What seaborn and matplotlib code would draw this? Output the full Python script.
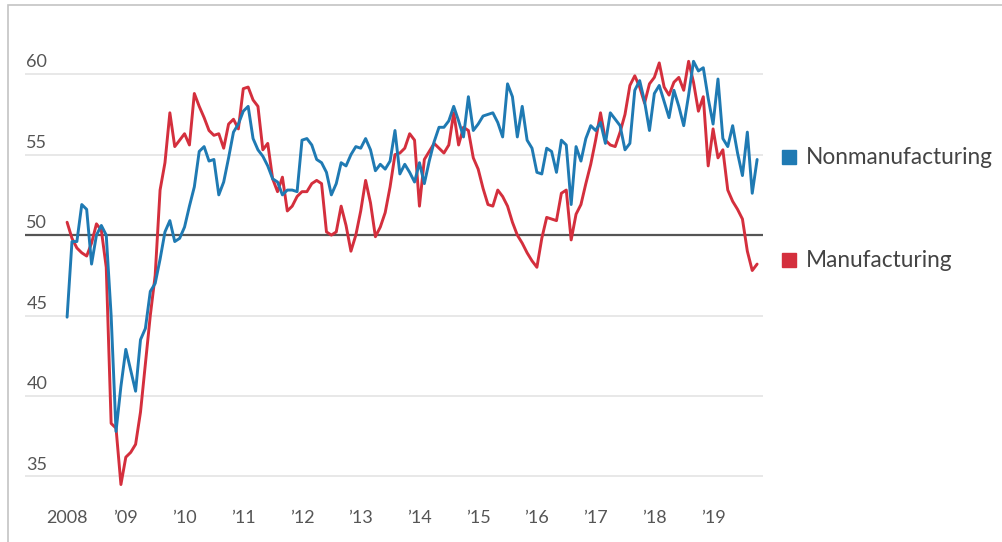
import numpy as np
import pandas as pd
import matplotlib
matplotlib.use("Agg")
import matplotlib.pyplot as plt
import matplotlib.transforms as mtransforms
from matplotlib.patches import Rectangle
import seaborn as sns

# monthly index readings, Jan 2008 - Oct 2019
nonmanufacturing = [
    44.9, 49.6, 49.6, 51.9, 51.6, 48.2, 50.0, 50.6, 50.0, 45.0, 37.8, 40.6,
    42.9, 41.6, 40.3, 43.5, 44.2, 46.5, 47.0, 48.5, 50.2, 50.9, 49.6, 49.8,
    50.5, 51.8, 53.0, 55.2, 55.5, 54.6, 54.7, 52.5, 53.3, 54.8, 56.4, 56.9,
    57.7, 58.0, 56.0, 55.3, 54.9, 54.3, 53.5, 53.3, 52.5, 52.8, 52.8, 52.7,
    55.9, 56.0, 55.6, 54.7, 54.5, 53.9, 52.5, 53.2, 54.5, 54.3, 55.0, 55.5,
    55.4, 56.0, 55.3, 54.0, 54.4, 54.1, 54.6, 56.5, 53.8, 54.4, 53.9, 53.3,
    54.5, 53.2, 54.6, 55.8, 56.7, 56.7, 57.1, 58.0, 57.1, 56.1, 58.6, 56.5,
    56.9, 57.4, 57.5, 57.6, 57.0, 56.1, 59.4, 58.6, 56.1, 58.0, 55.9, 55.4,
    53.9, 53.8, 55.4, 55.2, 53.9, 55.9, 55.6, 51.9, 55.5, 54.6, 56.0, 56.8,
    56.5, 57.0, 55.7, 57.6, 57.2, 56.8, 55.3, 55.7, 59.0, 59.6, 58.3, 56.5,
    58.8, 59.3, 58.3, 57.3, 59.0, 58.0, 56.8, 58.7, 60.8, 60.2, 60.4, 58.5,
    56.9, 59.7, 56.0, 55.5, 56.8, 55.1, 53.7, 56.4, 52.6, 54.7,
]
manufacturing = [
    50.8, 49.8, 49.2, 48.9, 48.7, 49.5, 50.7, 50.3, 48.0, 38.3, 38.0, 34.5,
    36.2, 36.5, 37.0, 39.0, 42.0, 45.0, 47.5, 52.8, 54.5, 57.6, 55.5, 55.9,
    56.3, 55.6, 58.8, 58.0, 57.3, 56.5, 56.2, 56.3, 55.4, 56.9, 57.2, 56.6,
    59.1, 59.2, 58.4, 58.0, 55.3, 55.7, 53.5, 52.7, 53.6, 51.5, 51.8, 52.4,
    52.7, 52.7, 53.2, 53.4, 53.2, 50.2, 50.0, 50.2, 51.8, 50.6, 49.0, 50.0,
    51.5, 53.4, 52.0, 49.9, 50.5, 51.4, 53.0, 55.0, 55.1, 55.4, 56.3, 55.9,
    51.8, 54.7, 55.2, 55.7, 55.4, 55.1, 55.6, 57.6, 55.6, 56.7, 56.5, 54.8,
    54.1, 52.9, 51.9, 51.8, 52.8, 52.4, 51.8, 50.8, 50.0, 49.5, 48.9, 48.4,
    48.0, 49.8, 51.1, 51.0, 50.9, 52.6, 52.8, 49.7, 51.3, 51.9, 53.2, 54.4,
    55.9, 57.6, 55.9, 55.6, 55.5, 56.4, 57.5, 59.3, 59.9, 59.2, 58.2, 59.4,
    59.8, 60.7, 59.2, 58.7, 59.5, 59.8, 59.0, 60.8, 59.5, 57.7, 58.6, 54.3,
    56.6, 54.8, 55.3, 52.8, 52.1, 51.6, 51.0, 49.0, 47.8, 48.2,
]
series_names = ["Manufacturing", "Nonmanufacturing"]
colors = {"Nonmanufacturing": "#1f7ab3", "Manufacturing": "#d42f3d"}
years = list(range(2008, 2020))
year_labels = ["2008"] + ["\u2019%02d" % (y % 100) for y in years[1:]]
yticks = [35, 40, 45, 50, 55, 60]

n = len(manufacturing)
t = 2008 + np.arange(n) / 12.0
df = pd.concat([
    pd.DataFrame({"t": t, "value": manufacturing, "series": "Manufacturing"}),
    pd.DataFrame({"t": t, "value": nonmanufacturing, "series": "Nonmanufacturing"}),
])

sns.set_style("white")
plt.rcParams["font.family"] = ["Lato", "DejaVu Sans"]

fig = plt.figure(figsize=(10.03, 5.42), dpi=100)
ax = fig.add_axes([25 / 1003, 47 / 542, 738 / 1003, 453 / 542])

for v in yticks:
    if v == 50:
        ax.axhline(v, color="#555555", lw=1.6, zorder=1)
    else:
        ax.axhline(v, color="#e4e4e4", lw=1.2, zorder=0)

sns.lineplot(data=df, x="t", y="value", hue="series", hue_order=series_names,
             palette=colors, linewidth=2.1, legend=False, ax=ax, zorder=3)

ax.set_xlim(2008 - 8.6 / 12, 2008 + 142.2 / 12)
ax.set_ylim(33.85, 62.0)
sns.despine(ax=ax, left=True, bottom=True)
ax.set_xlabel("")
ax.set_ylabel("")
ax.set_xticks(years)
ax.set_xticklabels(year_labels)
ax.set_yticks([])
ax.tick_params(axis="x", length=4, width=1.3, color="#555555", pad=7,
               labelsize=13, labelcolor="#555555")

trans = mtransforms.blended_transform_factory(ax.transAxes, ax.transData)
for v in yticks:
    ax.annotate(str(v), xy=(0, v), xycoords=trans, xytext=(1, 5),
                textcoords="offset points", ha="left", va="baseline",
                fontsize=13, color="#555555")

legend_y = {"Nonmanufacturing": 54.85, "Manufacturing": 48.45}
for name in ["Nonmanufacturing", "Manufacturing"]:
    ax.plot([1.035], [legend_y[name]], marker="s", ms=9.5, color=colors[name],
            transform=trans, clip_on=False, ls="none")
    ax.text(1.058, legend_y[name], name, transform=trans, ha="left",
            va="center", fontsize=16.3, color="#444444")

fig.patches.append(Rectangle((8 / 1003, -0.1), 1.2, 0.1 + 537 / 542,
                             transform=fig.transFigure, fill=False,
                             edgecolor="#c4c4c4", lw=1.2))

fig.savefig("out.png", dpi=100)
